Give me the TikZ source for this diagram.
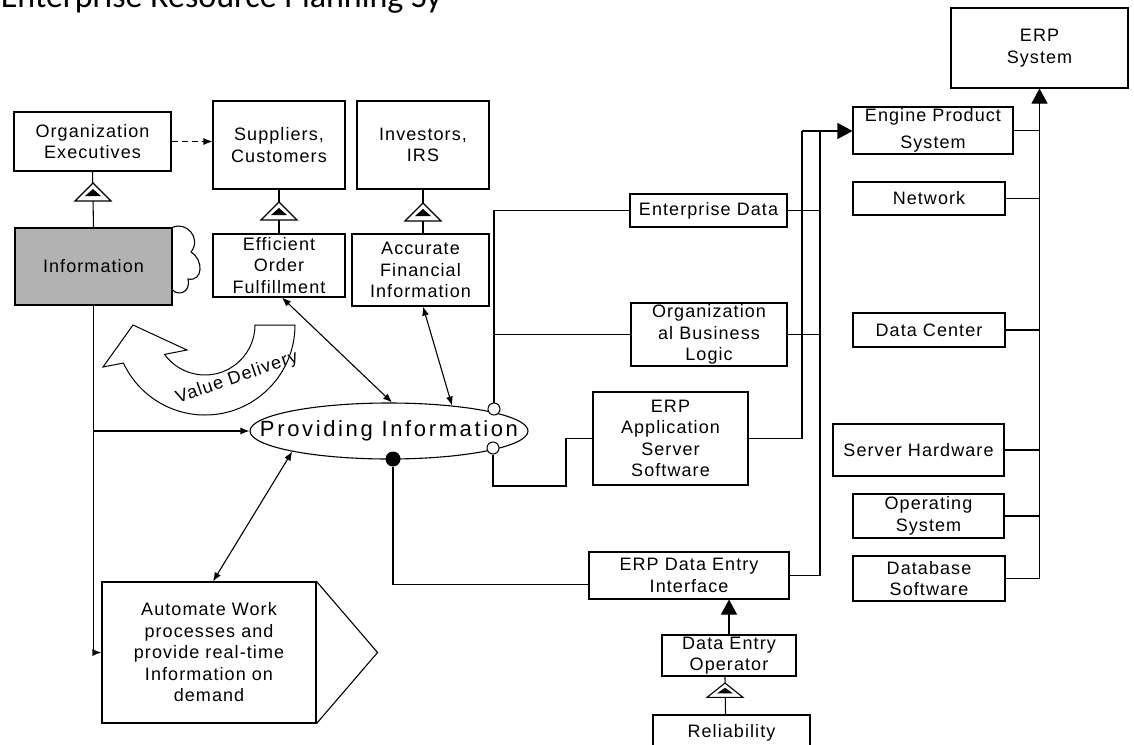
\documentclass[tikz,border=0pt]{standalone}
\usepackage{fontspec}
\setmainfont{Liberation Sans}
\newfontfamily\boxfont{Liberation Sans}[LetterSpace=6]
\newfontfamily\provfont{Liberation Sans}[LetterSpace=12]
\newfontfamily\titlefont{Carlito}
\usetikzlibrary{arrows.meta}
\usetikzlibrary{positioning}
\usetikzlibrary{calc}
\usetikzlibrary{shapes.geometric}

\tikzset{
  box/.style={draw, line width=1.1pt, align=center, inner sep=0pt,
    font={\boxfont\fontsize{18}{21.5}\selectfont}},
  sz/.style 2 args={minimum width=#1pt, minimum height=#2pt},
  port/.style={circle, draw, fill=white, line width=1pt, minimum size=12pt, inner sep=0pt},
  smallarrow/.style={-{Latex[length=9pt,width=7pt]}},
  twoway/.style={{Latex[length=9pt,width=7pt]}-{Latex[length=9pt,width=7pt]}},
  bigarrow/.style={-{Triangle[length=15pt,width=16pt]}},
  valtri/.pic={
    \draw[fill=white, line width=1.1pt] (0,0) -- (-18,-18) -- (18,-18) -- cycle;
    \fill (0,-6) -- (-8,-13) -- (8,-13) -- cycle;
  }
}

\begin{document}
\begin{tikzpicture}[x=1pt, y=1pt, line width=1.1pt]

        \useasboundingbox (0,0) rectangle (1134,-744);

        % title, cut at the top
        \node[anchor=base west, font={\titlefont\fontsize{34}{40}\selectfont}] (title) at (-3,-8) {Enterprise Resource Planning Sy};

        % left column
        \node[box, sz={157}{59}] (orgexec) at (92.5,-141.5) {Organization\\Executives};
        \node[box, sz={157}{77}, fill=black!30] (info) at (93.5,-266.5) {Information};
        \draw[line width=1.1pt] (info.north east) .. controls (186,-221) and (202,-238) .. (191,-252)
              .. controls (204,-260) and (203,-282) .. (188,-279)
              .. controls (191,-293) and (178,-296) .. (info.east |- 0,-290);

        % stakeholders
        \node[box, sz={132}{88}] (suppl) at (279,-145) {Suppliers,\\Customers};
        \node[box, sz={132}{88}] (invest) at (423,-145) {Investors,\\IRS};
        \node[box, sz={132}{63}] (effic) at (279,-265.5) {Efficient\\Order\\Fulfillment};
        \node[box, sz={137}{72}] (accur) at (420.5,-270) {Accurate\\Financial\\Information};

        % central process
        \node[ellipse, draw, line width=1.1pt, minimum width=278pt, minimum height=56pt, inner sep=0pt,
              label={[font={\provfont\fontsize{22}{26}\selectfont}]center:Providing Information}] (provide) at (389,-431) {};
        \node[box, sz={214}{141}] (autom) at (209,-652.5) {Automate Work\\processes and\\provide real-time\\Information on\\demand};
        \draw (autom.north east) -- ($(autom.east)+(61,0)$) -- (autom.south east);

        % value delivery arrow
        \begin{scope}[shift={(205,-325)}]
          \draw[line width=1pt] (0:90) arc[start angle=0, end angle=-155, radius=90]
                -- (-102,-42) -- (-72,0) -- (-18,-25) -- (-144:50)
                arc[start angle=-144, end angle=0, radius=50] -- cycle;
        \end{scope}
        \node[rotate=19, font={\boxfont\fontsize{18}{21.5}\selectfont}] (valdel) at (237,-378) {Value Delivery};

        % ports on the ellipse
        \node[port] (jtop) at (494,-409) {};
        \node[port] (jbot) at (493,-448) {};
        \node[circle, fill, minimum size=15pt, inner sep=0pt] (dot) at (393,-459) {};

        % middle column
        \node[box, sz={157}{33}] (entdata) at (708.5,-210.5) {Enterprise Data};
        \node[box, sz={156}{63}] (orglogic) at (709,-334.5) {Organization\\al Business\\Logic};
        \node[box, sz={155}{93}] (erpapp) at (670.5,-438.5) {ERP\\Application\\Server\\Software};
        \node[box, sz={200}{47}] (erpdei) at (689,-575.5) {ERP Data Entry\\Interface};
        \node[box, sz={134}{41}] (deop) at (729,-655.5) {Data Entry\\Operator};
        \node[box, sz={157}{36}] (reliab) at (731.5,-733) {Reliability};

        % right column
        \node[box, sz={177}{80}] (erpsys) at (1039.5,-48) {ERP\\System};
        \node[box, sz={160}{47}] (engine) at (933,-130.5) {Engine Product\\[5pt]System};
        \node[box, sz={152}{33}] (network) at (929,-198.5) {Network};
        \node[box, sz={152}{34}] (datacenter) at (929,-330) {Data Center};
        \node[box, sz={171}{52}] (serverhw) at (918.5,-450) {Server Hardware};
        \node[box, sz={151}{44}] (opsys) at (928.5,-516) {Operating\\System};
        \node[box, sz={152}{45}] (dbsw) at (929,-578.5) {Database\\Software};

        % connectors on the left
        \draw (orgexec.south) -- (info.north);
        \draw[dash pattern=on 6pt off 4pt, smallarrow] (orgexec.east) -- (orgexec.east -| suppl.west);
        \draw (suppl.south) -- (effic.north);
        \draw (invest.south) -- (invest.south |- accur.north);
        \draw[smallarrow] (info.south) |- (autom.west);
        \draw[smallarrow] (info.south |- provide.west) -- (provide.west);
        \draw[twoway] ($(effic.south)+(3,0)$) -- (provide.84);
        \draw[twoway] ($(accur.south)+(2.5,0)$) -- (provide.22);
        \draw[twoway] ($(autom.north)+(4,0)$) -- (provide.192);
        \pic at (93,-183) {valtri};
        \pic at (279,-202) {valtri};
        \pic at (423,-203) {valtri};

        % connectors in the middle
        \coordinate (bend) at (566,-486);
        \coordinate (busA) at (802,-131);
        \coordinate (busB) at (820,-131);
        \draw (jtop.north) |- (entdata.west);
        \draw (jtop.north |- orglogic.west) -- (orglogic.west);
        \draw (jbot.south) |- (bend) |- (erpapp.west);
        \draw (dot.south) |- ($(erpdei.west)+(0,-9)$);
        \draw (erpapp.east) -| (busA);
        \draw (erpdei.east) -| (busB);
        \draw (entdata.east) -- (entdata.east -| busB);
        \draw (orglogic.east) -- (orglogic.east -| busB);
        \draw[bigarrow] (busA) -- (busA -| engine.west);
        \draw[bigarrow] (deop.north) -- (deop.north |- erpdei.south);
        \draw ($(reliab.north)+(-6,0)$) -- ($(deop.south)+(-4,0)$);
        \pic[yscale=0.8] at (725,-683) {valtri};

        % connectors on the right
        \draw[bigarrow] (dbsw.east) -| (erpsys.south);
        \foreach \part in {engine,network,datacenter,serverhw,opsys}
          \draw (\part.east) -- (\part.east -| erpsys.south);

\end{tikzpicture}
\end{document}
